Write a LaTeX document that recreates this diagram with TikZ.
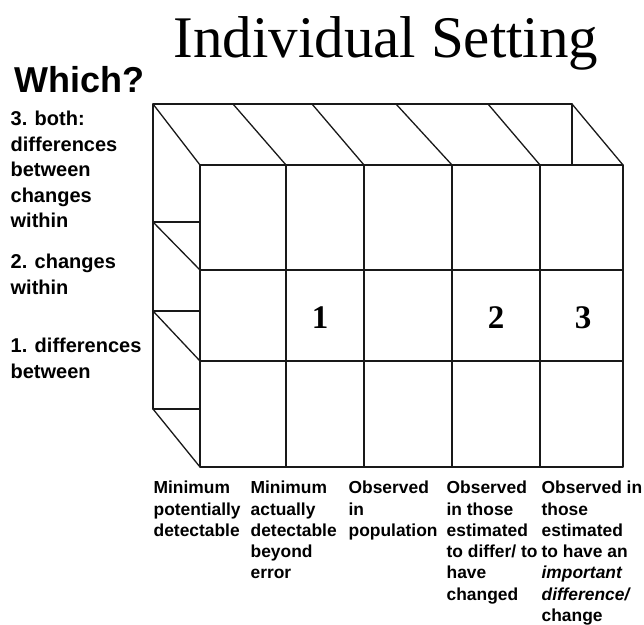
\documentclass[tikz,border=0pt]{standalone}
\usepackage{fontspec}
\setmainfont{Liberation Serif}
\newfontfamily\lsans{Liberation Sans}
\begin{document}
\begin{tikzpicture}[x=1pt,y=-1pt, line width=1.3pt, line join=round, line cap=round,
  lbl/.style={font=\lsans\bfseries\fontsize{17.4}{21.3}\selectfont, anchor=north west, align=left, inner sep=0pt},
  sidelbl/.style={font=\lsans\bfseries\fontsize{20}{25.6}\selectfont, anchor=north west, align=left, inner sep=0pt},
  num/.style={font=\bfseries\fontsize{33}{33}\selectfont, inner sep=0pt, anchor=base},
  edge/.style={draw=black!90}
  ]
\useasboundingbox (0,0) rectangle (644,624);
% title
\node[font=\fontsize{59}{59}\selectfont, anchor=base, inner sep=0pt] (title) at (386,57) {Individual Setting};
\node[font=\lsans\bfseries\fontsize{36}{36}\selectfont, anchor=base west, inner sep=0pt] (which) at (14,92) {Which?};
% side labels (top = first baseline - ascent)
\node[sidelbl] (l3) at (10,110.4) {3. both:\\differences\\between\\changes\\within};
\node[sidelbl] (l2) at (10,253.4) {2. changes\\within};
\node[sidelbl] (l1) at (10,337.4) {1. differences\\between};
% top face
\draw[edge] (153,104) -- (572,104);
\draw[edge] (153,104) -- (200,165);
\draw[edge] (233,104) -- (286,165);
\draw[edge] (312,104) -- (364,165);
\draw[edge] (396,104) -- (452,165);
\draw[edge] (488,104) -- (540,165);
\draw[edge] (572,104) -- (623,165);
\draw[edge] (572,104) -- (572,165);
% side face
\draw[edge] (153,104) -- (153,409);
\draw[edge] (153,222) -- (200,222);
\draw[edge] (153,311) -- (200,311);
\draw[edge] (153,409) -- (200,409);
\draw[edge] (153,222) -- (200,270);
\draw[edge] (153,311) -- (200,361);
\draw[edge] (153,409) -- (200,467);
% front face
\draw[edge] (200,165) rectangle (623,467);
\draw[edge] (200,270) -- (623,270);
\draw[edge] (200,361) -- (623,361);
\foreach \x in {286,364,452,540} \draw[edge] (\x,165) -- (\x,467);
% numbers
\node[num] (n1) at (320,328) {1};
\node[num] (n2) at (496,328) {2};
\node[num] (n3) at (583,328) {3};
% bottom labels
\node[lbl] (b1) at (153,480.5) {Minimum\\potentially\\detectable};
\node[lbl] (b2) at (250,480.5) {Minimum\\actually\\detectable\\beyond\\error};
\node[lbl] (b3) at (348,480.5) {Observed\\in\\population};
\node[lbl] (b4) at (446,480.5) {Observed\\in those\\estimated\\to differ/ to\\have\\changed};
\node[lbl] (b5) at (541,480.5) {Observed in\\those\\estimated\\to have an\\\textit{important}\\\textit{difference/}\\change};
\end{tikzpicture}
\end{document}
